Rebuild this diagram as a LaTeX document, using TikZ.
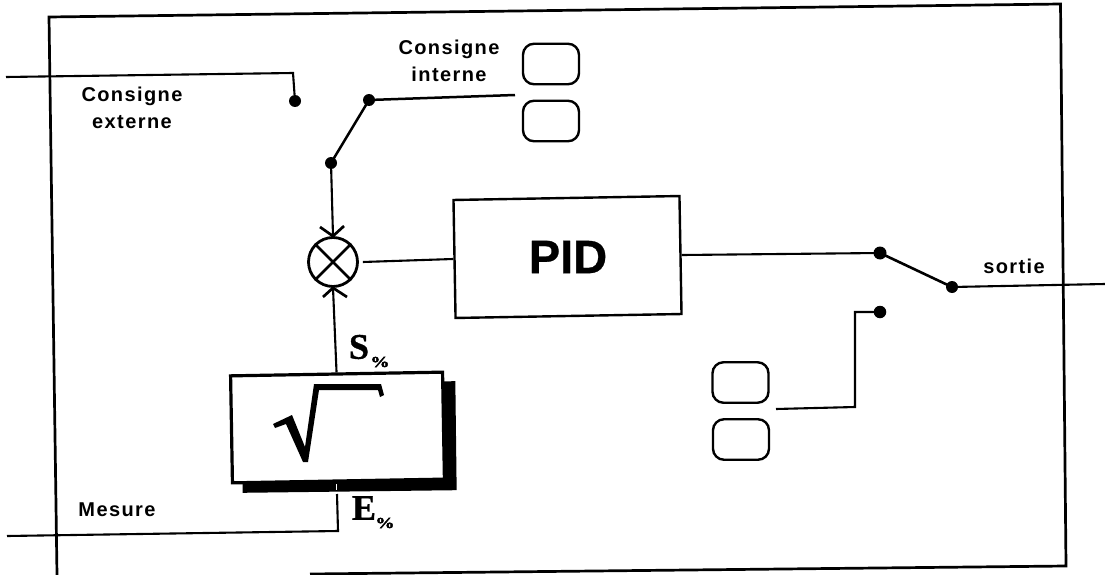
\documentclass[tikz,border=0pt]{standalone}
\usepackage{fontspec}
\setmainfont{Liberation Sans}
\newfontfamily\serifbold{Liberation Serif}[BoldFont={Liberation Serif Bold}]
\usetikzlibrary{calc}
\tikzset{
  every picture/.style={x=1pt,y=-1pt},
  wire/.style={line width=2.1pt,black},
  framewire/.style={line width=2.7pt,black,line join=miter},
  lab/.style={font=\fontsize{20}{24}\selectfont\bfseries\addfontfeature{LetterSpace=7},inner sep=0,align=center,text=black},
  smallboxnode/.style={draw,line width=2.4pt,rounded corners=11pt,minimum width=56pt,minimum height=40.5pt,inner sep=0},
  dotnode/.style={circle,fill=black,inner sep=0,minimum size=12pt},
  bigS/.style={font=\serifbold\fontsize{36}{36}\selectfont\bfseries\addfontfeature{FakeBold=1},inner sep=0},
  pct/.style={font=\serifbold\fontsize{19}{19}\selectfont\bfseries\addfontfeature{FakeBold=2.5},inner sep=0,yscale=.8},
}
\begin{document}
\begin{tikzpicture}
\useasboundingbox (0,0) rectangle (1105,575);
% frame
\coordinate (fa) at (57,575);
\coordinate (fb) at (49,17);
\coordinate (fc) at (1060.5,4);
\coordinate (fd) at (1066,566);
\coordinate (fe) at (310,574);
\draw[framewire] (fa) -- (fb) -- (fc) -- (fd) -- (fe);
% blocks
\node[draw,line width=2.4pt,rotate=1,minimum width=226pt,minimum height=118pt,inner sep=0] (pid) at (567.5,257) {};
\node[font=\fontsize{47}{47}\selectfont\bfseries\addfontfeature{FakeBold=.6},inner sep=0] (pidtext) at (568,257) {PID};
\node[circle,draw,line width=2.8pt,minimum size=49pt,inner sep=0] (sum) at (333,262) {};
\draw[line width=2.5pt] (sum.45) -- (sum.225) (sum.135) -- (sum.315);
% shadow, then root box
\node[fill=black,rotate=.7,minimum width=214pt,minimum height=109pt,inner sep=0] (shade) at (349,437) {};
\node[draw,fill=white,line width=3.2pt,rotate=1,minimum width=212pt,minimum height=107pt,inner sep=0] (root) at (337.5,427.5) {};
% root sign
\fill (273,424) -- (292,415) -- (305,447) -- (314,384) -- (381,384) -- (384,395) -- (380,397) -- (378,390) -- (319,390) -- (308,462) -- (303,462) -- (286,424) -- (275,428) -- cycle;
% small boxes
\node[smallboxnode] (ci1) at (551,64) {};
\node[smallboxnode] (ci2) at (551,121) {};
\node[smallboxnode] (so1) at (740.5,382.5) {};
\node[smallboxnode] (so2) at (741,439.5) {};
% dots
\node[dotnode] (dext) at (295,101) {};
\node[dotnode] (dint) at (369,100) {};
\node[dotnode] (dcom) at (331,163) {};
\node[dotnode,minimum size=13pt] (dpid) at (880,253) {};
\node[dotnode] (dout) at (952,287) {};
\node[dotnode,minimum size=12.5pt] (dman) at (880,312) {};
% connectors
\coordinate (extin) at (6,77);
\coordinate (extc) at (293,73);
\draw[wire] (extin) -- (extc) -- (dext);
\coordinate (intend) at (515,95);
\draw[wire,line width=2.5pt] (intend) -- (dint.center) -- (dcom.center);
\draw[wire] (dcom.center) -- (sum.north);
\coordinate (ta) at (320,227);
\coordinate (tb) at (344,226);
\draw[wire,line width=2.7pt] (ta) -- (sum.north) -- (tb);
\coordinate (ba) at (323,297);
\coordinate (bb) at (347,297);
\draw[wire,line width=2.7pt] (ba) -- (sum.south) -- (bb);
\draw[wire] (sum.south) -- (root.north);
\draw[wire] ($(sum.east)+(4,0)$) -- (pid.west);
\draw[wire] (pid.east) -- (dpid.center);
\draw[wire,line width=2.6pt] (dpid.center) -- (dout.center);
\coordinate (outend) at (1105,284);
\draw[wire] (dout.center) -- (outend);
\coordinate (manb) at (855,312);
\coordinate (manc) at (855,407);
\coordinate (mand) at (776,409);
\draw[wire] (dman.center) -- (manb) -- (manc) -- (mand);
\coordinate (mesin) at (7,536);
\coordinate (mesc) at (338,531);
\coordinate (mese) at (337,494);
\draw[wire] (mesin) -- (mesc) -- (mese);
\draw[white,line width=1pt] (336,484) -- (336,490);
% labels
\node[lab] (t1) at (132,108) {Consigne\\[2.5pt]externe};
\node[lab] (t2) at (449,61) {Consigne\\[2.5pt]interne};
\node[lab] (t3) at (1014,266) {sortie};
\node[lab] (t4) at (117,510) {Mesure};
\node[bigS] (s) at (359,347) {S};
\node[pct] (sp) at (380,362) {\%};
\node[bigS] (e) at (364,508) {E};
\node[pct] (ep) at (385,523) {\%};
\end{tikzpicture}
\end{document}
